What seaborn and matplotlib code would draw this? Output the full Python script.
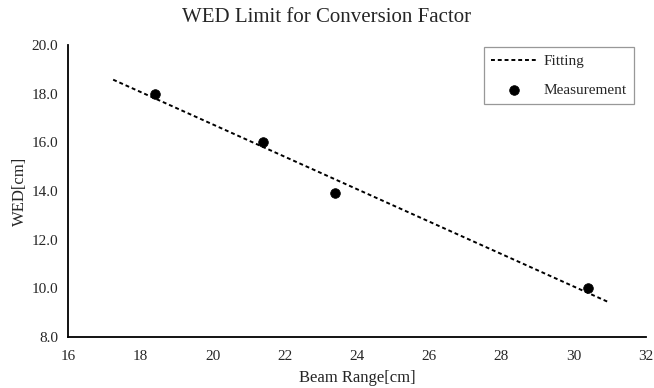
import numpy as np
import pandas as pd
import matplotlib
matplotlib.use("Agg")
import matplotlib.pyplot as plt
import seaborn as sns

beam_range = [18.4, 21.4, 23.4, 30.4]
wed = [18.0, 16.0, 13.9, 10.0]
fit_range = [17.25, 30.95]
x_ticks = [16, 18, 20, 22, 24, 26, 28, 30, 32]
y_ticks = [8.0, 10.0, 12.0, 14.0, 16.0, 18.0, 20.0]

sns.set_theme(style="white")
plt.rcParams['font.family'] = ['Liberation Serif', 'DejaVu Serif']

coef = np.polyfit(beam_range, wed, 1)
fit_x = np.array(fit_range)
fit_df = pd.DataFrame({"x": fit_x, "y": np.polyval(coef, fit_x)})
meas_df = pd.DataFrame({"x": beam_range, "y": wed})

fig = plt.figure(figsize=(6.54, 3.88), dpi=100)
ax = fig.add_axes([68/654, 1-337/388, (646-68)/654, (337-45)/388])

sns.lineplot(data=fit_df, x="x", y="y", ax=ax, color="black", linestyle=(0, (2, 1.5)),
             linewidth=1.4, label="Fitting")
sns.scatterplot(data=meas_df, x="x", y="y", ax=ax, color="black", s=48,
                edgecolor="black", label="Measurement", zorder=3)

ax.set_xlim(16, 32)
ax.set_ylim(8, 20)
ax.set_xticks(x_ticks)
ax.set_xticklabels([str(t) for t in x_ticks], fontsize=11)
ax.set_yticks(y_ticks)
ax.set_yticklabels([f"{t:.1f}" for t in y_ticks], fontsize=11)
ax.tick_params(axis='x', length=0, pad=9.5)
ax.tick_params(axis='y', length=0, pad=7)
ax.set_xlabel("Beam Range[cm]", fontsize=12, labelpad=5)
ax.set_ylabel("WED[cm]", fontsize=12, labelpad=3)
for s in ["top", "right"]:
    ax.spines[s].set_visible(False)
for s in ["left", "bottom"]:
    ax.spines[s].set_color("black")
    ax.spines[s].set_linewidth(1.3)

fig.text(0.5, 1-18/388, "WED Limit for Conversion Factor", ha="center", va="center", fontsize=15)

leg = ax.legend(loc="upper right", bbox_to_anchor=(0.979, 0.993), borderaxespad=0.0,
                frameon=True, fancybox=False, fontsize=11, handlelength=3.0,
                handletextpad=0.4, borderpad=0.5, labelspacing=0.95)
leg.get_frame().set_edgecolor("#7f7f7f")
leg.get_frame().set_linewidth(0.9)

fig.savefig("out.png", dpi=100)
